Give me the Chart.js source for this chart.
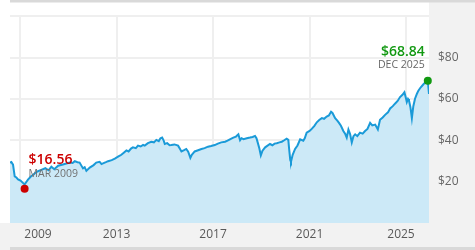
<!DOCTYPE html>
<html>
<head>
<meta charset="utf-8">
<script src="https://cdn.jsdelivr.net/npm/chart.js@4"></script>
<style>
  html, body { margin: 0; padding: 0; background: #fff; }
  canvas { display: block; }
</style>
</head>
<body>
<canvas id="price" width="475" height="250"></canvas>
<script>
// decimal years and price
const years = [
  2008.57, 2008.64, 2008.71, 2008.78, 2008.85, 2008.92, 2009.02, 2009.12, 2009.19, 2009.26,
  2009.33, 2009.45, 2009.54, 2009.70, 2009.88, 2010.05, 2010.18, 2010.30, 2010.42, 2010.58,
  2010.78, 2010.92, 2011.06, 2011.18, 2011.27, 2011.38, 2011.47, 2011.61, 2011.68, 2011.75,
  2011.89, 2012.05, 2012.16, 2012.30, 2012.38, 2012.44, 2012.56, 2012.65, 2012.80, 2012.93,
  2013.08, 2013.20, 2013.30, 2013.41, 2013.50, 2013.60, 2013.68, 2013.80, 2013.89, 2014.00,
  2014.10, 2014.17, 2014.30, 2014.44, 2014.55, 2014.65, 2014.75, 2014.82, 2014.89, 2014.95,
  2015.00, 2015.10, 2015.20, 2015.27, 2015.40, 2015.55, 2015.62, 2015.69, 2015.80, 2015.89,
  2015.97, 2016.06, 2016.12, 2016.24, 2016.38, 2016.52, 2016.65, 2016.79, 2016.92, 2017.07,
  2017.20, 2017.34, 2017.50, 2017.60, 2017.72, 2017.84, 2017.95, 2018.05, 2018.12, 2018.18,
  2018.26, 2018.40, 2018.53, 2018.64, 2018.74, 2018.80, 2018.85, 2018.92, 2018.98, 2019.05,
  2019.16, 2019.26, 2019.36, 2019.46, 2019.55, 2019.64, 2019.75, 2019.85, 2019.95, 2020.05,
  2020.12, 2020.15, 2020.20, 2020.23, 2020.30, 2020.40, 2020.50, 2020.61, 2020.74, 2020.80,
  2020.88, 2021.00, 2021.09, 2021.20, 2021.30, 2021.40, 2021.51, 2021.60, 2021.71, 2021.80,
  2021.89, 2021.95, 2022.06, 2022.15, 2022.22, 2022.30, 2022.40, 2022.48, 2022.54, 2022.61,
  2022.68, 2022.75, 2022.82, 2022.89, 2022.98, 2023.09, 2023.20, 2023.30, 2023.40, 2023.51,
  2023.60, 2023.72, 2023.83, 2023.92, 2024.03, 2024.13, 2024.25, 2024.34, 2024.45, 2024.54,
  2024.65, 2024.75, 2024.85, 2024.93, 2024.98, 2025.03, 2025.08, 2025.12, 2025.18, 2025.24,
  2025.30, 2025.37, 2025.45, 2025.51, 2025.60, 2025.72, 2025.80, 2025.86, 2025.90, 2025.95
];
const prices = [
  29.2, 29.5, 28.2, 22.5, 22.0, 21.1, 20.5, 19.4, 18.6, 19.8,
  21.0, 22.5, 23.3, 24.8, 25.7, 26.5, 25.5, 27.2, 26.0, 27.7,
  28.3, 28.8, 29.2, 29.0, 29.9, 29.4, 29.2, 26.4, 27.0, 25.2,
  26.8, 28.0, 29.2, 29.6, 28.5, 28.8, 29.4, 29.9, 30.4, 31.1,
  32.2, 33.0, 34.0, 35.1, 34.6, 36.0, 36.6, 36.2, 37.4, 37.0,
  37.8, 37.4, 38.6, 39.3, 39.0, 40.2, 39.6, 41.0, 41.3, 40.0,
  38.2, 38.6, 37.6, 37.7, 38.0, 37.4, 36.0, 34.6, 35.2, 35.8,
  34.5, 31.5, 33.0, 34.6, 35.2, 35.8, 36.2, 36.9, 37.2, 37.7,
  38.4, 39.0, 39.3, 39.8, 40.6, 41.3, 41.8, 42.9, 40.0, 41.0,
  40.5, 41.0, 41.3, 41.6, 42.1, 41.0, 39.0, 36.0, 32.7, 35.0,
  36.6, 37.4, 38.2, 37.6, 38.4, 38.6, 39.0, 39.3, 40.0, 40.8,
  40.2, 36.2, 30.5, 29.6, 33.0, 35.8, 37.5, 40.5, 39.8, 41.0,
  43.7, 44.5, 45.5, 47.0, 48.7, 49.8, 50.7, 50.4, 51.5, 52.0,
  53.8, 53.2, 50.7, 49.5, 48.4, 47.0, 44.5, 43.0, 41.3, 45.2,
  43.0, 39.0, 42.0, 42.9, 42.0, 43.7, 43.2, 44.5, 45.5, 48.4,
  47.2, 47.6, 45.2, 49.9, 51.0, 52.3, 53.5, 55.4, 56.5, 57.7,
  59.0, 60.9, 62.0, 63.2, 61.0, 58.5, 60.0, 59.3, 56.0, 50.7,
  56.5, 60.1, 62.5, 64.0, 65.5, 67.1, 68.0, 67.9, 68.8, 62.4
];

const yearTicks = [2009, 2013, 2017, 2021, 2025];
const priceTicks = [0, 20, 40, 60, 80, 100];

// low / latest markers
const lowPoint = {x: 2009.19, y: 16.56, price: '$16.56', label: 'MAR 2009'};
const lastPoint = {x: 2025.90, y: 68.84, price: '$68.84', label: 'DEC 2025'};

const FONT = '"Open Sans", "Liberation Sans", sans-serif';
const GRAY_BG = '#f2f2f2';
const RULE = '#d9d9d9';

const backgroundPlugin = {
  id: 'panels',
  beforeDraw(chart) {
    const {ctx, chartArea: a, width, height} = chart;
    ctx.save();
    ctx.fillStyle = '#fff';
    ctx.fillRect(0, 0, width, height);
    ctx.fillStyle = GRAY_BG;
    ctx.fillRect(a.right, 0, width - a.right, height);
    ctx.fillRect(0, a.bottom, width, height - a.bottom);
    ctx.fillStyle = RULE;
    ctx.fillRect(10, 0, width - 10, 2.5);
    ctx.fillRect(10, height - 3, width - 10, 3);
    ctx.restore();
  }
};

const labelsPlugin = {
  id: 'labels',
  afterDraw(chart) {
    const {ctx, chartArea: a} = chart;
    const xs = chart.scales.x;
    const ys = chart.scales.y;
    ctx.save();

    // year labels, kept inside the plot width
    ctx.font = '12px ' + FONT;
    ctx.fillStyle = '#595959';
    ctx.textAlign = 'center';
    ctx.textBaseline = 'middle';
    yearTicks.forEach(yr => {
      let px = xs.getPixelForValue(yr);
      px = Math.min(Math.max(px, a.left + 28), a.right - 28);
      ctx.fillText(String(yr), px, a.bottom + 12);
    });

    // low annotation
    const lx = xs.getPixelForValue(lowPoint.x);
    const ly = ys.getPixelForValue(lowPoint.y);
    ctx.textAlign = 'left';
    ctx.textBaseline = 'alphabetic';
    ctx.font = '600 14px ' + FONT;
    ctx.fillStyle = '#cc0000';
    ctx.fillText(lowPoint.price, lx + 4, ly - 25);
    ctx.font = '10.5px ' + FONT;
    ctx.fillStyle = '#707070';
    ctx.fillText(lowPoint.label, lx + 4, ly - 12);

    // latest annotation
    const hx = xs.getPixelForValue(lastPoint.x);
    const hy = ys.getPixelForValue(lastPoint.y);
    ctx.textAlign = 'right';
    ctx.font = '600 14px ' + FONT;
    ctx.fillStyle = '#129912';
    ctx.fillText(lastPoint.price, hx - 3, hy - 25);
    ctx.font = '10.5px ' + FONT;
    ctx.fillStyle = '#666';
    ctx.fillText(lastPoint.label, hx - 3, hy - 13);

    ctx.restore();
  }
};

const ctx = document.getElementById('price').getContext('2d');

const priceChart = new Chart(ctx, {
  type: 'line',
  data: {
    datasets: [
      {
        data: [{x: lowPoint.x, y: lowPoint.y}],
        showLine: false,
        pointRadius: 4,
        pointBorderWidth: 0,
        pointBackgroundColor: '#cc0000',
        clip: false,
        order: 0
      },
      {
        data: [{x: lastPoint.x, y: lastPoint.y}],
        showLine: false,
        pointRadius: 4,
        pointBorderWidth: 0,
        pointBackgroundColor: '#119911',
        clip: false,
        order: 0
      },
      {
        data: years.map((yr, i) => ({x: yr, y: prices[i]})),
        borderColor: '#1a9ad8',
        borderWidth: 2,
        backgroundColor: '#cce9f7',
        fill: 'origin',
        pointRadius: 0,
        tension: 0,
        order: 1
      }
    ]
  },
  options: {
    responsive: false,
    animation: false,
    devicePixelRatio: 1,
    layout: {padding: {left: 10, top: 10, right: 0, bottom: 0}},
    plugins: {
      legend: {display: false},
      tooltip: {enabled: false}
    },
    scales: {
      x: {
        type: 'linear',
        min: 2008.585,
        max: 2025.95,
        afterBuildTicks: s => { s.ticks = yearTicks.map(v => ({value: v})); },
        afterFit: s => { s.height = 27; },
        ticks: {display: false},
        border: {display: false},
        grid: {color: '#efefef', lineWidth: 2, drawTicks: false}
      },
      y: {
        position: 'right',
        min: 0,
        max: 100,
        afterBuildTicks: s => { s.ticks = priceTicks.map(v => ({value: v})); },
        afterFit: s => { s.width = 46; },
        border: {display: false},
        grid: {
          color: c => c.tick.value === 0 ? 'rgba(0,0,0,0)' : '#efefef',
          lineWidth: 2,
          drawTicks: false
        },
        ticks: {
          padding: 9,
          color: '#666',
          font: {family: FONT, size: 12},
          callback: v => (v === 0 || v === 100) ? '' : '$' + v
        }
      }
    }
  },
  plugins: [backgroundPlugin, labelsPlugin]
});
</script>
</body>
</html>
